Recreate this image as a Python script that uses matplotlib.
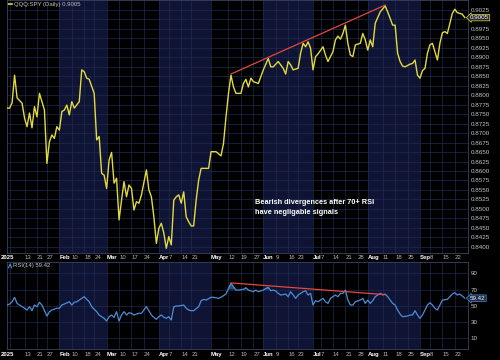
import matplotlib
matplotlib.use('Agg')
import matplotlib.pyplot as plt
import matplotlib.transforms as mtrans
from matplotlib.lines import Line2D
import numpy as np

plt.rcParams['font.family'] = ['Liberation Sans', 'DejaVu Sans']

# ---------------- data (trading-session index, 0 = 2 Jan 2025) ----------------
price_day = [-1, 0, 1, 2, 3, 4, 5, 6, 7, 8, 9, 10, 11, 12, 14, 15, 16, 17, 18, 19,
             20, 21, 22, 23, 24, 25, 26, 28, 29, 30, 31, 32, 34, 35, 36, 37, 38, 39,
             40, 41, 42, 43, 44, 45, 46, 47, 48, 49, 50, 51, 52, 53, 55, 56, 57, 58,
             59, 60, 61, 62, 63, 64, 65, 66, 67, 68, 69, 70, 71, 72, 73, 74, 75, 76,
             77, 78, 80, 81, 83, 85, 86, 87, 88, 89, 90, 91, 93, 94, 95, 96, 97, 98,
             100, 101, 102, 104, 105, 106, 108, 110, 111, 112, 113, 114, 116, 117,
             118, 119, 120, 121, 122, 123, 124, 126, 127, 128, 130, 131, 132, 133,
             134, 135, 136, 137, 138, 139, 141, 142, 143, 144, 145, 146, 147, 149,
             150, 151, 152, 153, 154, 155, 156, 157, 158, 159, 161, 162, 163, 164,
             165, 166, 167, 168, 169, 170, 171, 172, 173, 174, 175, 176, 177, 178,
             179, 180, 181, 182, 183]
price_val = [0.8766, 0.8766, 0.8780, 0.8853, 0.8793, 0.8786, 0.8779, 0.8740, 0.8717,
             0.8753, 0.8714, 0.8770, 0.8743, 0.8805, 0.8761, 0.8620, 0.8677, 0.8695,
             0.8686, 0.8717, 0.8708, 0.8757, 0.8761, 0.8774, 0.8748, 0.8783, 0.8766,
             0.8783, 0.8867, 0.8862, 0.8845, 0.8842, 0.8805, 0.8682, 0.8691, 0.8594,
             0.8589, 0.8554, 0.8629, 0.8649, 0.8568, 0.8581, 0.8471, 0.8523, 0.8572,
             0.8532, 0.8563, 0.8554, 0.8497, 0.8519, 0.8515, 0.8537, 0.8603, 0.8550,
             0.8532, 0.8479, 0.8409, 0.8449, 0.8462, 0.8436, 0.8396, 0.8427, 0.8405,
             0.8523, 0.8532, 0.8537, 0.8515, 0.8545, 0.8479, 0.8466, 0.8455, 0.8455,
             0.8523, 0.8576, 0.8607, 0.8607, 0.8607, 0.8651, 0.8651, 0.8640, 0.8673,
             0.8743, 0.8805, 0.8853, 0.8822, 0.8805, 0.8805, 0.8831, 0.8842, 0.8822,
             0.8845, 0.8836, 0.8831, 0.8849, 0.8867, 0.8897, 0.8875, 0.8875, 0.8889,
             0.8871, 0.8856, 0.8889, 0.8880, 0.8867, 0.8871, 0.8911, 0.8937, 0.8928,
             0.8941, 0.8924, 0.8867, 0.8902, 0.8909, 0.8928, 0.8906, 0.8889, 0.8915,
             0.8946, 0.8956, 0.8948, 0.8963, 0.8985, 0.8937, 0.8906, 0.8902, 0.8933,
             0.8937, 0.8963, 0.8946, 0.8919, 0.8946, 0.8928, 0.8990, 0.9020, 0.9028,
             0.9036, 0.9020, 0.9003, 0.8985, 0.8985, 0.8911, 0.8889, 0.8877, 0.8875,
             0.8882, 0.8884, 0.8893, 0.8853, 0.8845, 0.8865, 0.8871, 0.8911, 0.8933,
             0.8937, 0.8915, 0.8893, 0.8937, 0.8965, 0.8968, 0.8963, 0.8990, 0.9016,
             0.9027, 0.9018, 0.9016, 0.9014, 0.9005]

rsi_day = [-1, 0, 1, 2, 3, 4, 6, 7, 8, 9, 10, 11, 12, 13, 15, 16, 17, 19, 20, 21, 22,
           24, 25, 26, 27, 29, 30, 31, 32, 33, 35, 36, 37, 38, 39, 40, 41, 42, 43, 44,
           45, 46, 47, 48, 49, 50, 52, 53, 54, 55, 56, 57, 58, 59, 60, 61, 62, 63, 64,
           65, 66, 67, 68, 70, 71, 72, 73, 74, 76, 77, 78, 79, 81, 82, 84, 85, 87, 88,
           89, 90, 91, 92, 94, 95, 96, 98, 99, 100, 102, 103, 104, 105, 106, 107, 108,
           109, 111, 112, 113, 114, 115, 116, 118, 119, 120, 121, 122, 123, 124, 125,
           126, 127, 128, 129, 130, 131, 132, 133, 134, 135, 136, 137, 138, 139, 141,
           142, 143, 144, 145, 146, 147, 149, 150, 151, 152, 153, 154, 155, 156, 157,
           158, 160, 161, 162, 163, 164, 165, 166, 167, 168, 169, 170, 171, 172, 173,
           174, 176, 177, 178, 179, 180, 181, 182, 183]
rsi_val = [51, 52.2, 55, 60.5, 53, 51, 47, 44.8, 48.9, 44, 51, 48.9, 54.3, 51, 37.4,
           42.8, 44.8, 47, 47, 51, 52.2, 55, 51, 54.3, 55, 59.2, 61.2, 58, 55, 48.9,
           42.8, 38.7, 36.6, 34.6, 31.3, 36.6, 38.7, 35.8, 42.8, 31.3, 38.7, 42.8,
           38.7, 41.5, 40.8, 38.7, 40.8, 40.8, 44.8, 48.9, 44, 38.7, 35.8, 33.4, 36.6,
           38.7, 36.0, 34.6, 36.6, 32.5, 48.9, 49.8, 49.8, 51, 47, 44.8, 44, 44, 48.9,
           56.3, 58, 57.1, 60.5, 60.5, 59.2, 60.5, 64.5, 71.5, 77.7, 73.5, 69.4, 69.4,
           70.3, 72.3, 69.4, 67.4, 69.4, 67.4, 69.4, 71.5, 72.7, 68.6, 69.4, 68.2,
           65.4, 63.3, 64.5, 61.2, 67.4, 63.3, 59.2, 63.3, 67.4, 68.6, 63.3, 65.4, 51,
           56.3, 55, 57.1, 59.2, 55, 53, 59.2, 61.2, 63.3, 61.2, 65.4, 65.4, 69.4,
           57.1, 51, 51, 55, 57.1, 59.2, 53, 57.1, 53, 56.3, 61.2, 65.4, 63.3, 64.5,
           61.2, 57.1, 53, 51, 44.8, 39.9, 36.6, 37.4, 38.7, 38.7, 44, 38.7, 34.6,
           38.7, 44.8, 51, 53.8, 51, 47, 44.8, 51, 57.1, 58, 61.2, 64.5, 66.1, 63.3,
           64.5, 62.1, 59.42]

trend_price_day = [89, 151]
trend_price_val = [0.8856, 0.9038]
trend_rsi_day = [89, 151]
trend_rsi_val = [78.2, 63.8]

tick_day = [0, 6, 11, 15, 20, 25, 30, 34, 39, 44, 49, 54, 60, 64, 69, 73, 81, 88, 93,
            98, 102, 107, 112, 116, 122, 125, 130, 135, 140, 144, 150, 155, 160, 165,
            169, 174, 179]
tick_label = ['2025', '13', '21', '27', 'Feb', '10', '18', '24', 'Mar', '10', '17', '24',
              'Apr', '7', '14', '21', 'May', '12', '19', '27', 'Jun', '9', '16', '23',
              'Jul', '7', '14', '21', '28', 'Aug', '11', '18', '25', 'Sep', '8', '15', '22']
shaded_start = [20, 60, 102, 144]   # Feb, Apr, Jun, Aug
shaded_end = [39, 81, 122, 165]
price_ticks = [0.8400 + 0.0025 * k for k in range(26)]
rsi_ticks = [10, 30, 50, 70, 90]
last_price = 0.9005
last_rsi = 59.42
legend_price = 'QQQ:SPY (Daily) 0.9005'
legend_rsi = 'RSI(14) 59.42'
note = 'Bearish divergences after 70+ RSI\nhave negligable signals'

# ---------------- style ----------------
BG = 'black'
SHADE = '#0f1334'
GRID = '#1d2a50'
SPINE = '#3a4264'
YEL = '#e2da3e'
BLUE = '#4b8ed8'
RED = '#e5483c'
LBL = '#c4c4c4'

W, H = 500, 360
fig = plt.figure(figsize=(W / 100, H / 100), dpi=100, facecolor=BG)


def box(l, t, r, b):
    return [l / W, 1 - b / H, (r - l) / W, (b - t) / H]


ax = fig.add_axes(box(7, 0, 468, 253.3))
ax2 = fig.add_axes(box(7, 261.7, 468, 349.3), sharex=ax)

for a in (ax, ax2):
    a.set_facecolor(BG)
    for s in a.spines.values():
        s.set_color(SPINE)
        s.set_linewidth(0.6)
    for s0, s1 in zip(shaded_start, shaded_end):
        a.axvspan(s0, s1, color=SHADE, lw=0, zorder=0)
    a.set_xticks(tick_day)
    a.tick_params(axis='x', length=0, labelbottom=False)
    a.grid(True, color=GRID, lw=0.5, zorder=0.5)
    a.set_axisbelow(True)
    a.yaxis.tick_right()
    a.tick_params(axis='y', length=0, pad=2, labelsize=4.5, colors=LBL)

ax.set_xlim(-1.05, 184.3)

# price panel
ax.set_ylim(0.83828, 0.90514)
ax.set_yticks(price_ticks)
ax.set_yticklabels(['' if abs(v - 0.9) < 1e-6 else f'{v:.4f}' for v in price_ticks])
ax.plot(price_day, price_val, color=YEL, lw=1.0, zorder=3)
ax.plot(trend_price_day, trend_price_val, color=RED, lw=0.9, zorder=4)
ax.text(0.538, 0.215, note, transform=ax.transAxes, color='white', fontsize=5.3,
        fontweight='bold', ha='left', va='top', linespacing=1.55, zorder=5)
ax.text(1.004, last_price, f'{last_price:.4f}',
        transform=mtrans.blended_transform_factory(ax.transAxes, ax.transData),
        ha='left', va='center', fontsize=4.5, color='white', clip_on=False, zorder=6,
        bbox=dict(boxstyle='larrow,pad=0.12', fc='#2b2b2b', ec=YEL, lw=0.5))

# legend price
ax.add_line(Line2D([0.003, 0.011], [0.984, 0.984], transform=ax.transAxes, color=YEL, lw=1.2))
ax.text(0.015, 0.984, legend_price, transform=ax.transAxes, fontsize=4.3, color=LBL,
        ha='left', va='center')

# RSI panel
ax2.set_ylim(-3.5, 104.3)
ax2.set_yticks(rsi_ticks)
ax2.set_yticklabels([str(v) for v in rsi_ticks])
rd = np.array(rsi_day, dtype=float)
rv = np.array(rsi_val, dtype=float)
ax2.fill_between(rd, 70, rv, where=rv > 70, interpolate=True, color=BLUE, alpha=0.55,
                 lw=0, zorder=2)
ax2.plot(rsi_day, rsi_val, color=BLUE, lw=0.9, zorder=3)
ax2.plot(trend_rsi_day, trend_rsi_val, color=RED, lw=0.9, zorder=4)
ax2.text(1.004, last_rsi, f'{last_rsi:.2f}',
         transform=mtrans.blended_transform_factory(ax2.transAxes, ax2.transData),
         ha='left', va='center', fontsize=4.5, color='white', clip_on=False, zorder=6,
         bbox=dict(boxstyle='larrow,pad=0.12', fc='#1b2a44', ec=BLUE, lw=0.5))
ax2.add_line(Line2D([0.003, 0.007, 0.010], [0.93, 0.975, 0.93], transform=ax2.transAxes,
                    color=BLUE, lw=0.8))
ax2.text(0.012, 0.955, legend_rsi, transform=ax2.transAxes, fontsize=4.3, color=LBL,
         ha='left', va='center')

# date labels under each panel
for a, dy in ((ax, -4.2), (ax2, -5.2)):
    tr = mtrans.offset_copy(a.get_xaxis_transform(), fig=fig, x=0, y=dy, units='dots')
    for d, lab in zip(tick_day, tick_label):
        bold = not lab.isdigit() or lab == '2025'
        if lab == '2025':
            t2 = mtrans.offset_copy(tr, fig=fig, x=-2.5, y=0, units='dots')
            a.text(d, 0, lab, transform=t2, ha='center', va='center', fontsize=4.3,
                   color='white', fontweight='bold', clip_on=False)
        else:
            a.text(d, 0, lab, transform=tr, ha='left', va='center', fontsize=4.3,
                   color='white' if bold else '#b4b4b4',
                   fontweight='bold' if bold else 'normal', clip_on=False)

fig.savefig('out.png', dpi=100, facecolor=BG)
